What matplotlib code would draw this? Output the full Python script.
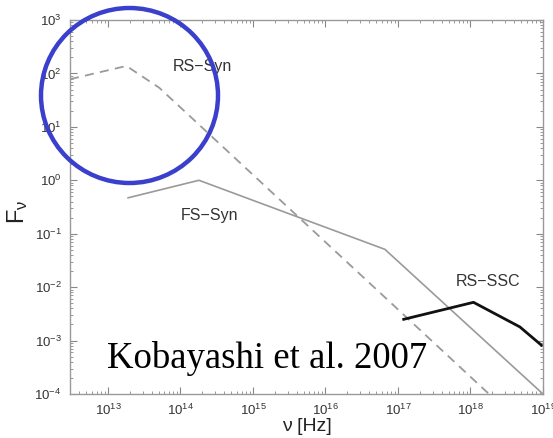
import matplotlib
matplotlib.use("Agg")
import matplotlib.pyplot as plt
from matplotlib.patches import Ellipse
from matplotlib.ticker import LogLocator, NullFormatter

plt.rcParams['font.family'] = ['Liberation Sans', 'DejaVu Sans']
plt.rcParams['mathtext.fontset'] = 'custom'
plt.rcParams['mathtext.rm'] = 'Liberation Sans'
plt.rcParams['mathtext.it'] = 'Liberation Sans'
plt.rcParams['mathtext.default'] = 'regular'

# Data
rs_syn_nu = [3.0e12, 1.8e13, 5.1e13, 1.8e18]
rs_syn_F = [78, 138, 54, 1e-4]
fs_syn_nu = [1.9e13, 1.8e14, 6.6e16, 1e19]
fs_syn_F = [0.47, 1.0, 0.051, 1e-4]
rs_ssc_nu = [1.2e17, 1.1e18, 4.8e18, 9.5e18]
rs_ssc_F = [0.0025, 0.0052, 0.0018, 0.00082]

fig = plt.figure(figsize=(5.53, 4.38), dpi=100)
ax = fig.add_axes([70/553, 1-394/438, (543-70)/553, (394-20)/438])
ax.set_xscale('log')
ax.set_yscale('log')
ax.set_xlim(3.0e12, 1e19)
ax.set_ylim(1e-4, 1e3)

ax.plot(rs_syn_nu, rs_syn_F, color='#9a9a9a', lw=1.3, ls=(0, (5, 3.5)))
ax.plot(fs_syn_nu, fs_syn_F, color='#9a9a9a', lw=1.2)
ax.plot(rs_ssc_nu, rs_ssc_F, color='#111111', lw=2.0)

lab_kw = dict(fontsize=11.5, color='#333333')
ax.text(7.8e13, 132, 'RS\u2212Syn', ha='left', va='center', **lab_kw)
ax.text(1.02e14, 0.215, 'FS\u2212Syn', ha='left', va='center', **lab_kw)
ax.text(6.2e17, 0.0129, 'RS\u2212SSC', ha='left', va='center', **lab_kw)

ax.xaxis.set_major_locator(LogLocator(base=10, numticks=20))
ax.xaxis.set_minor_locator(LogLocator(base=10, subs=range(2, 10), numticks=100))
ax.yaxis.set_major_locator(LogLocator(base=10, numticks=20))
ax.yaxis.set_minor_locator(LogLocator(base=10, subs=range(2, 10), numticks=100))
ax.xaxis.set_minor_formatter(NullFormatter())
ax.yaxis.set_minor_formatter(NullFormatter())

ax.tick_params(which='both', direction='in', top=True, right=True,
               color='#888888', labelsize=9.5, labelcolor='#333333')
ax.tick_params(which='major', length=5, width=0.8, pad=6)
ax.tick_params(which='minor', length=2.5, width=0.6)
for s in ax.spines.values():
    s.set_color('#999999')
    s.set_linewidth(1.0)

ax.set_xlabel('\u03bd [Hz]', fontsize=14, color='#222222', labelpad=0)
fig.text(18/553, 1-212/438, 'F$_{\u03bd}$', rotation=90, fontsize=17,
         color='#222222', ha='center', va='center')

fig.text(107/553, 1-358/438, 'Kobayashi et al. 2007', fontsize=26.5,
         family=['Liberation Serif', 'DejaVu Serif'], color='black',
         ha='left', va='center')

circ = Ellipse((129.5/553, 1-95.5/438), 177/553, 175/438, transform=fig.transFigure,
               fill=False, edgecolor='#3a40cc', lw=3.2, clip_on=False)
fig.patches.append(circ)

fig.savefig('out.png', dpi=100)
